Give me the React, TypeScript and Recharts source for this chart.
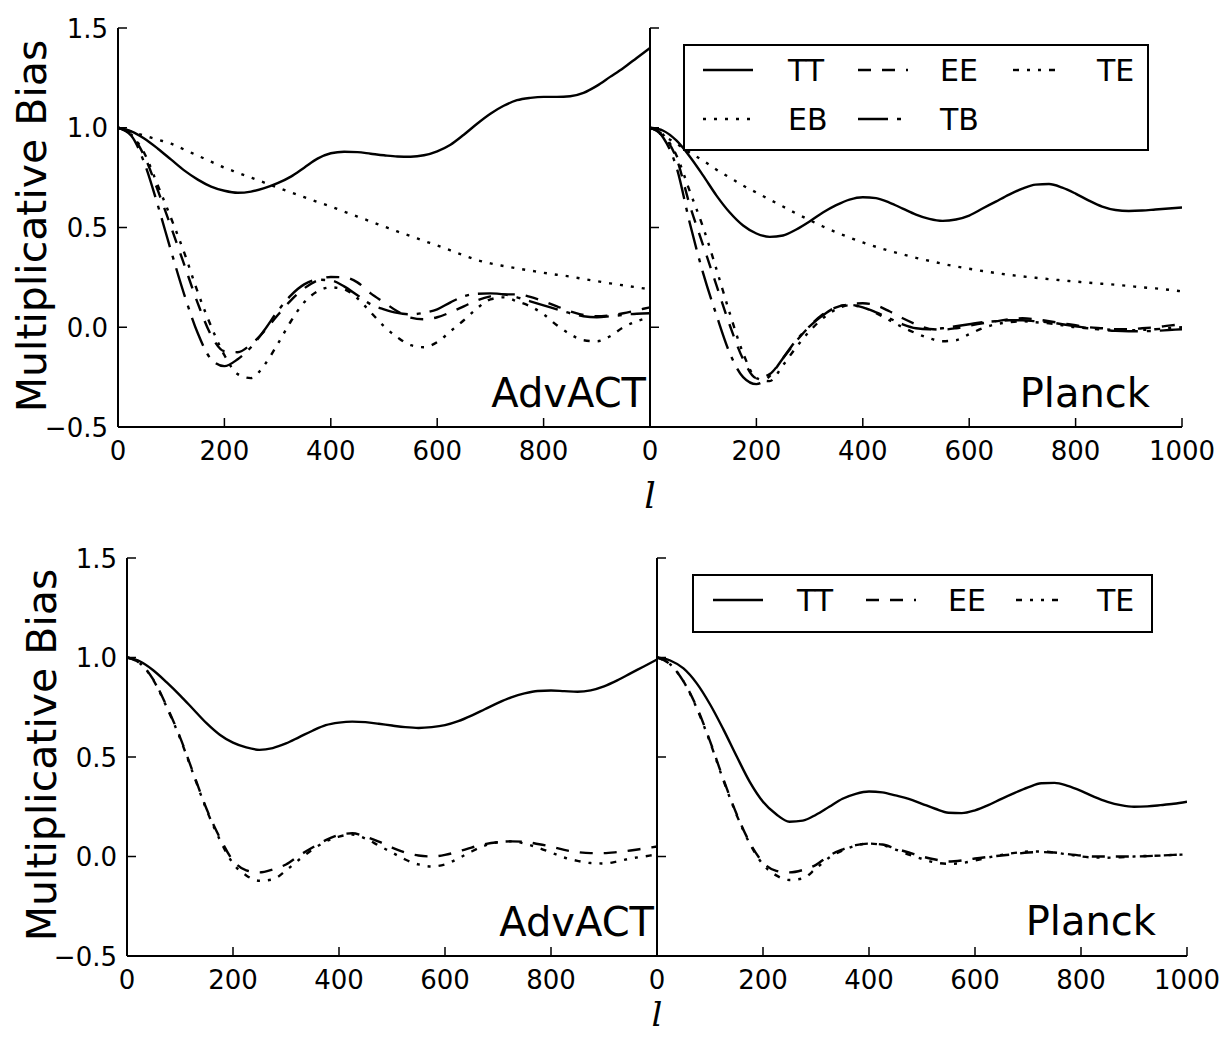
import React from 'react';
import { LineChart, Line, XAxis, YAxis, Legend } from 'recharts';

// multipole grid (l)
const ELL = [0, 25, 50, 75, 100, 125, 150, 175, 200, 225, 250, 275, 300, 325, 350, 375, 400, 425, 450, 475, 500, 525, 550, 575, 600, 625, 650, 675, 700, 725, 750, 775, 800, 825, 850, 875, 900, 925, 950, 975, 1000];

// Top row, AdvACT
const ACT_TOP_TT = [1.0, 0.982, 0.945, 0.895, 0.84, 0.785, 0.74, 0.705, 0.684, 0.674, 0.68, 0.697, 0.722, 0.755, 0.80, 0.845, 0.872, 0.88, 0.878, 0.87, 0.862, 0.856, 0.855, 0.862, 0.882, 0.915, 0.965, 1.02, 1.07, 1.11, 1.138, 1.15, 1.155, 1.155, 1.158, 1.175, 1.21, 1.255, 1.30, 1.35, 1.40];
const ACT_TOP_EE = [1.0, 0.965, 0.855, 0.685, 0.50, 0.31, 0.12, -0.04, -0.12, -0.125, -0.085, -0.02, 0.06, 0.135, 0.195, 0.235, 0.252, 0.25, 0.225, 0.17, 0.125, 0.08, 0.048, 0.04, 0.05, 0.075, 0.105, 0.135, 0.155, 0.165, 0.165, 0.152, 0.13, 0.105, 0.08, 0.062, 0.055, 0.06, 0.07, 0.085, 0.10];
const ACT_TOP_TE = [1.0, 0.965, 0.87, 0.71, 0.545, 0.37, 0.175, 0.005, -0.14, -0.235, -0.255, -0.19, -0.085, 0.03, 0.125, 0.18, 0.20, 0.19, 0.145, 0.075, 0.005, -0.05, -0.09, -0.10, -0.075, -0.02, 0.035, 0.095, 0.14, 0.15, 0.13, 0.105, 0.065, 0.01, -0.035, -0.065, -0.07, -0.045, 0.0, 0.03, 0.05];
const ACT_TOP_EB = [1.0, 0.98, 0.96, 0.94, 0.92, 0.89, 0.86, 0.83, 0.80, 0.775, 0.75, 0.725, 0.70, 0.676, 0.652, 0.628, 0.605, 0.58, 0.555, 0.53, 0.505, 0.48, 0.457, 0.433, 0.41, 0.385, 0.36, 0.337, 0.32, 0.307, 0.295, 0.284, 0.273, 0.263, 0.254, 0.242, 0.231, 0.22, 0.21, 0.2, 0.19];
const ACT_TOP_TB = [1.0, 0.96, 0.82, 0.61, 0.38, 0.16, -0.03, -0.16, -0.195, -0.16, -0.10, -0.015, 0.08, 0.16, 0.215, 0.238, 0.235, 0.205, 0.16, 0.115, 0.09, 0.072, 0.065, 0.072, 0.09, 0.125, 0.155, 0.168, 0.17, 0.165, 0.15, 0.13, 0.11, 0.09, 0.07, 0.055, 0.05, 0.055, 0.062, 0.068, 0.07];

// Top row, Planck
const PL_TOP_TT = [1.0, 0.985, 0.935, 0.855, 0.76, 0.66, 0.575, 0.51, 0.47, 0.453, 0.46, 0.49, 0.53, 0.575, 0.612, 0.64, 0.652, 0.647, 0.625, 0.595, 0.565, 0.543, 0.533, 0.54, 0.56, 0.595, 0.63, 0.665, 0.695, 0.715, 0.718, 0.70, 0.67, 0.635, 0.605, 0.588, 0.583, 0.585, 0.59, 0.595, 0.60];
const PL_TOP_EE = [1.0, 0.96, 0.845, 0.61, 0.41, 0.21, 0.01, -0.16, -0.255, -0.235, -0.155, -0.07, 0.005, 0.065, 0.10, 0.115, 0.12, 0.11, 0.08, 0.045, 0.015, -0.008, -0.012, -0.005, 0.008, 0.02, 0.03, 0.04, 0.045, 0.04, 0.03, 0.02, 0.01, 0.0, -0.005, -0.01, -0.01, -0.005, 0.0, 0.008, 0.015];
const PL_TOP_TE = [1.0, 0.965, 0.86, 0.68, 0.5, 0.29, 0.07, -0.13, -0.255, -0.27, -0.19, -0.1, -0.02, 0.045, 0.09, 0.11, 0.1, 0.07, 0.035, 0.0, -0.03, -0.055, -0.07, -0.065, -0.035, -0.005, 0.015, 0.025, 0.03, 0.025, 0.02, 0.01, 0.0, -0.005, -0.01, -0.013, -0.015, -0.013, -0.01, -0.005, 0.0];
const PL_TOP_EB = [1.0, 0.96, 0.92, 0.875, 0.835, 0.79, 0.75, 0.71, 0.675, 0.64, 0.605, 0.57, 0.537, 0.505, 0.476, 0.45, 0.425, 0.403, 0.383, 0.365, 0.348, 0.333, 0.318, 0.305, 0.293, 0.282, 0.272, 0.263, 0.255, 0.248, 0.241, 0.235, 0.229, 0.223, 0.218, 0.213, 0.207, 0.2, 0.195, 0.188, 0.18];
const PL_TOP_TB = [1.0, 0.95, 0.80, 0.52, 0.27, 0.06, -0.13, -0.25, -0.285, -0.245, -0.155, -0.065, 0.005, 0.06, 0.10, 0.112, 0.1, 0.075, 0.045, 0.015, -0.005, -0.01, -0.005, 0.005, 0.015, 0.025, 0.03, 0.035, 0.035, 0.03, 0.025, 0.015, 0.005, -0.005, -0.012, -0.018, -0.02, -0.02, -0.018, -0.014, -0.01];

// Bottom row, AdvACT
const ACT_BOT_TT = [1.0, 0.98, 0.935, 0.875, 0.81, 0.74, 0.67, 0.612, 0.572, 0.548, 0.536, 0.545, 0.568, 0.60, 0.632, 0.66, 0.673, 0.678, 0.675, 0.667, 0.658, 0.65, 0.646, 0.65, 0.66, 0.68, 0.708, 0.74, 0.772, 0.80, 0.82, 0.832, 0.834, 0.831, 0.828, 0.835, 0.855, 0.885, 0.92, 0.955, 0.99];
const ACT_BOT_EE = [1.0, 0.97, 0.888, 0.754, 0.60, 0.42, 0.24, 0.095, -0.02, -0.07, -0.08, -0.065, -0.04, 0.005, 0.045, 0.082, 0.108, 0.117, 0.10, 0.075, 0.045, 0.02, 0.005, 0.0, 0.008, 0.025, 0.045, 0.062, 0.072, 0.076, 0.074, 0.063, 0.05, 0.033, 0.022, 0.017, 0.017, 0.022, 0.03, 0.04, 0.05];
const ACT_BOT_TE = [1.0, 0.97, 0.885, 0.75, 0.595, 0.415, 0.235, 0.085, -0.035, -0.095, -0.122, -0.115, -0.07, -0.015, 0.035, 0.075, 0.10, 0.11, 0.09, 0.055, 0.02, -0.015, -0.04, -0.05, -0.04, -0.01, 0.025, 0.055, 0.072, 0.076, 0.065, 0.045, 0.02, -0.005, -0.022, -0.033, -0.035, -0.025, -0.01, 0.0, 0.01];

// Bottom row, Planck
const PL_BOT_TT = [1.0, 0.985, 0.945, 0.87, 0.765, 0.64, 0.505, 0.375, 0.275, 0.212, 0.175, 0.18, 0.21, 0.25, 0.29, 0.315, 0.327, 0.322, 0.307, 0.29, 0.265, 0.24, 0.22, 0.218, 0.232, 0.258, 0.29, 0.32, 0.347, 0.368, 0.37, 0.355, 0.33, 0.30, 0.275, 0.258, 0.25, 0.252, 0.258, 0.265, 0.275];
const PL_BOT_EE = [1.0, 0.965, 0.88, 0.75, 0.58, 0.39, 0.215, 0.07, -0.03, -0.072, -0.08, -0.068, -0.042, 0.005, 0.035, 0.057, 0.065, 0.06, 0.04, 0.02, 0.0, -0.015, -0.025, -0.02, -0.01, -0.002, 0.005, 0.012, 0.02, 0.022, 0.02, 0.012, 0.005, 0.0, 0.0, 0.0, 0.0, 0.002, 0.005, 0.008, 0.01];
const PL_BOT_TE = [1.0, 0.965, 0.88, 0.745, 0.575, 0.385, 0.21, 0.065, -0.04, -0.095, -0.118, -0.11, -0.06, -0.005, 0.03, 0.055, 0.065, 0.058, 0.035, 0.01, -0.012, -0.03, -0.037, -0.033, -0.02, -0.005, 0.008, 0.018, 0.025, 0.025, 0.02, 0.01, 0.0, -0.005, -0.006, -0.004, 0.0, 0.003, 0.005, 0.008, 0.01];

const Y_TICKS = [-0.5, 0, 0.5, 1, 1.5];
const X_TICKS = [0, 200, 400, 600, 800, 1000];
const X_LABELS_ACT = [0, 200, 400, 600, 800];
const X_LABELS_PLANCK = [0, 200, 400, 600, 800, 1000];
const PANEL_NAMES = ['AdvACT', 'Planck'];
const Y_TITLE = 'Multiplicative Bias';
const X_TITLE = 'l';

const DASH: Record<string, string | undefined> = {
  TT: undefined,
  EE: '13 11',
  TE: '6 8 3 8 3 8',
  EB: '3 8',
  TB: '30 9 4 9',
};

function buildRows(series: Record<string, number[]>) {
  return ELL.map((l, i) => {
    const row: Record<string, number> = { l };
    Object.keys(series).forEach((k) => {
      row[k] = series[k][i];
    });
    return row;
  });
}

const FONT = '"DejaVu Sans", sans-serif';
const PAD_L = 80;
const PAD_R = 50;
const PAD_T = 30;
const PAD_B = 60;
const TICK = 9;
const LINE_W = 2.4;
const AXIS = { stroke: '#000', strokeWidth: 2 };

const fmtY = (v: number) => (v < 0 ? '\u2212' + Math.abs(v).toFixed(1) : v.toFixed(1));

function BottomTick(props: any) {
  const { x, y, payload, labels } = props;
  const show = labels.indexOf(payload.value) >= 0;
  return (
    <g>
      <line x1={x} y1={y} x2={x} y2={y - TICK} stroke="#000" strokeWidth={1.5} />
      {show && (
        <text x={x} y={y + 33} textAnchor="middle" fontSize={26} fontFamily={FONT} fill="#000">
          {payload.value}
        </text>
      )}
    </g>
  );
}

function TopTick(props: any) {
  const { x, y } = props;
  return <line x1={x} y1={y} x2={x} y2={y + TICK} stroke="#000" strokeWidth={1.5} />;
}

function LeftTick(props: any) {
  const { x, y, payload, showLabel } = props;
  return (
    <g>
      <line x1={x} y1={y} x2={x + TICK} y2={y} stroke="#000" strokeWidth={1.5} />
      {showLabel && (
        <text x={x - 10} y={y + 9.5} textAnchor="end" fontSize={26} fontFamily={FONT} fill="#000">
          {fmtY(payload.value)}
        </text>
      )}
    </g>
  );
}

function RightTick(props: any) {
  const { x, y } = props;
  return <line x1={x} y1={y} x2={x - TICK} y2={y} stroke="#000" strokeWidth={1.5} />;
}

type LegendCfg = {
  left: number;
  top: number;
  w: number;
  h: number;
  rows: string[][];
  handleX: number[];
  textX: number[];
};

function LegendBox({ cfg }: { cfg: LegendCfg }) {
  return (
    <svg width={cfg.w} height={cfg.h} style={{ display: 'block' }}>
      <rect x={1} y={1} width={cfg.w - 2} height={cfg.h - 2} fill="#fff" stroke="#000" strokeWidth={2} />
      {cfg.rows.map((row, ri) =>
        row.map((k, ci) => {
          const cy = 26 + ri * 49;
          return (
            <g key={k}>
              <line
                x1={cfg.handleX[ci]}
                x2={cfg.handleX[ci] + 50}
                y1={cy}
                y2={cy}
                stroke="#000"
                strokeWidth={LINE_W}
                strokeDasharray={DASH[k]}
              />
              <text x={cfg.textX[ci]} y={cy + 11} fontSize={30} fontFamily={FONT} fill="#000">
                {k}
              </text>
            </g>
          );
        })
      )}
    </svg>
  );
}

type PanelProps = {
  x0: number;
  y0: number;
  w: number;
  h: number;
  series: Record<string, number[]>;
  xLabels: number[];
  yLabels: boolean;
  legend?: LegendCfg;
};

function Panel({ x0, y0, w, h, series, xLabels, yLabels, legend }: PanelProps) {
  const rows = buildRows(series);
  const keys = Object.keys(series);
  const left = x0 - PAD_L;
  const top = y0 - PAD_T;
  return (
    <div style={{ position: 'absolute', left, top }}>
      <LineChart
        width={w + PAD_L + PAD_R}
        height={h + PAD_T + PAD_B}
        data={rows}
        margin={{ top: PAD_T, right: PAD_R, bottom: 0, left: 0 }}
      >
        <XAxis
          xAxisId="b"
          dataKey="l"
          type="number"
          domain={[0, 1000]}
          allowDataOverflow
          ticks={X_TICKS}
          interval={0}
          height={PAD_B}
          tickSize={0}
          tickMargin={0}
          tickLine={false}
          axisLine={AXIS}
          tick={(p: any) => <BottomTick {...p} labels={xLabels} />}
        />
        <XAxis
          xAxisId="t"
          orientation="top"
          dataKey="l"
          type="number"
          domain={[0, 1000]}
          allowDataOverflow
          ticks={X_TICKS}
          interval={0}
          height={0}
          tickSize={0}
          tickMargin={0}
          tickLine={false}
          axisLine={AXIS}
          tick={(p: any) => <TopTick {...p} />}
        />
        <YAxis
          yAxisId="l"
          type="number"
          domain={[-0.5, 1.5]}
          allowDataOverflow
          ticks={Y_TICKS}
          interval={0}
          width={PAD_L}
          tickSize={0}
          tickMargin={0}
          tickLine={false}
          axisLine={AXIS}
          tick={(p: any) => <LeftTick {...p} showLabel={yLabels} />}
        />
        <YAxis
          yAxisId="r"
          orientation="right"
          type="number"
          domain={[-0.5, 1.5]}
          allowDataOverflow
          ticks={Y_TICKS}
          interval={0}
          width={0}
          tickSize={0}
          tickMargin={0}
          tickLine={false}
          axisLine={AXIS}
          tick={(p: any) => <RightTick {...p} />}
        />
        {keys.map((k) => (
          <Line
            key={k}
            xAxisId="b"
            yAxisId="l"
            type="monotone"
            dataKey={k}
            stroke="#000"
            strokeWidth={LINE_W}
            strokeDasharray={DASH[k]}
            dot={false}
            activeDot={false}
            isAnimationActive={false}
          />
        ))}
        {legend && (
          <Legend
            layout="vertical"
            align="center"
            verticalAlign="middle"
            wrapperStyle={{
              position: 'absolute',
              left: legend.left - left,
              top: legend.top - top,
              width: legend.w,
              height: legend.h,
              margin: 0,
              padding: 0,
            }}
            content={() => <LegendBox cfg={legend} />}
          />
        )}
      </LineChart>
    </div>
  );
}

const TOP_LEGEND: LegendCfg = {
  left: 683,
  top: 44,
  w: 466,
  h: 107,
  rows: [
    ['TT', 'EE', 'TE'],
    ['EB', 'TB'],
  ],
  handleX: [20, 175, 330],
  textX: [105, 257, 414],
};

const BOTTOM_LEGEND: LegendCfg = {
  left: 692,
  top: 574,
  w: 461,
  h: 59,
  rows: [['TT', 'EE', 'TE']],
  handleX: [21, 174, 324],
  textX: [105, 256, 405],
};

export default function App() {
  return (
    <div
      style={{
        position: 'absolute',
        left: 0,
        top: 0,
        width: 1221,
        height: 1037,
        background: '#fff',
        fontFamily: FONT,
        overflow: 'hidden',
      }}
    >
      <Panel
        x0={118}
        y0={28}
        w={532}
        h={399}
        series={{ TT: ACT_TOP_TT, EE: ACT_TOP_EE, TE: ACT_TOP_TE, EB: ACT_TOP_EB, TB: ACT_TOP_TB }}
        xLabels={X_LABELS_ACT}
        yLabels
      />
      <Panel
        x0={650}
        y0={28}
        w={532}
        h={399}
        series={{ TT: PL_TOP_TT, EE: PL_TOP_EE, TE: PL_TOP_TE, EB: PL_TOP_EB, TB: PL_TOP_TB }}
        xLabels={X_LABELS_PLANCK}
        yLabels={false}
        legend={TOP_LEGEND}
      />
      <Panel
        x0={127}
        y0={558}
        w={530}
        h={398}
        series={{ TT: ACT_BOT_TT, EE: ACT_BOT_EE, TE: ACT_BOT_TE }}
        xLabels={X_LABELS_ACT}
        yLabels
      />
      <Panel
        x0={657}
        y0={558}
        w={530}
        h={398}
        series={{ TT: PL_BOT_TT, EE: PL_BOT_EE, TE: PL_BOT_TE }}
        xLabels={X_LABELS_PLANCK}
        yLabels={false}
        legend={BOTTOM_LEGEND}
      />
      <svg
        width={1221}
        height={1037}
        style={{ position: 'absolute', left: 0, top: 0, pointerEvents: 'none' }}
      >
        <text transform="translate(46,226) rotate(-90)" textAnchor="middle" fontSize={41} fontFamily={FONT} fill="#000">
          {Y_TITLE}
        </text>
        <text transform="translate(56,755) rotate(-90)" textAnchor="middle" fontSize={41} fontFamily={FONT} fill="#000">
          {Y_TITLE}
        </text>
        <text x={650} y={508} textAnchor="middle" fontSize={36} fontStyle="italic" fontFamily='"DejaVu Serif", serif' fill="#000">
          {X_TITLE}
        </text>
        <text x={657} y={1026} textAnchor="middle" fontSize={34} fontStyle="italic" fontFamily='"DejaVu Serif", serif' fill="#000">
          {X_TITLE}
        </text>
        <text x={646} y={407} textAnchor="end" fontSize={40} fontFamily={FONT} fill="#000">
          {PANEL_NAMES[0]}
        </text>
        <text x={1150} y={407} textAnchor="end" fontSize={40} fontFamily={FONT} fill="#000">
          {PANEL_NAMES[1]}
        </text>
        <text x={654} y={936} textAnchor="end" fontSize={40} fontFamily={FONT} fill="#000">
          {PANEL_NAMES[0]}
        </text>
        <text x={1156} y={935} textAnchor="end" fontSize={40} fontFamily={FONT} fill="#000">
          {PANEL_NAMES[1]}
        </text>
      </svg>
    </div>
  );
}
